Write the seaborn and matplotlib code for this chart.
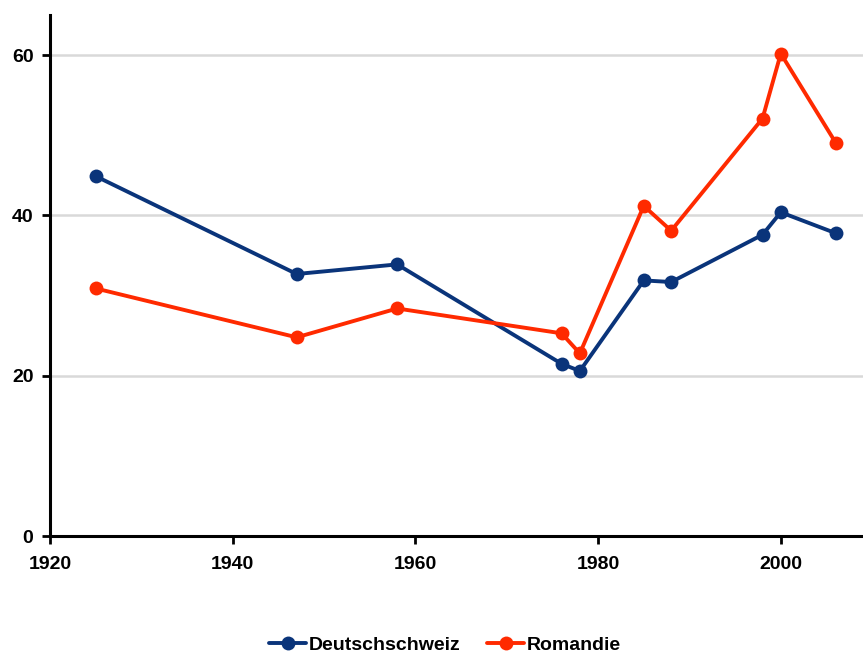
import matplotlib
matplotlib.use("Agg")
import matplotlib.pyplot as plt
import seaborn as sns
import pandas as pd

years = [1925, 1947, 1958, 1976, 1978, 1985, 1988, 1998, 2000, 2006]
deutschschweiz = [44.9, 32.7, 33.9, 21.5, 20.6, 31.9, 31.7, 37.6, 40.4, 37.8]
romandie = [30.9, 24.8, 28.4, 25.3, 22.8, 41.2, 38.1, 52.1, 60.2, 49.1]
series_names = ["Deutschschweiz", "Romandie"]
colors = ["#0a347a", "#ff2a00"]
x_ticks = [1920, 1940, 1960, 1980, 2000]
y_ticks = [0, 20, 40, 60]

df = pd.DataFrame({
    "Jahr": years * 2,
    "Wert": deutschschweiz + romandie,
    "Region": [series_names[0]] * len(years) + [series_names[1]] * len(years),
})

sns.set_theme(style="white")
plt.rcParams["font.family"] = ["Liberation Sans", "DejaVu Sans"]
plt.rcParams["text.color"] = "black"
plt.rcParams["xtick.color"] = "black"
plt.rcParams["ytick.color"] = "black"

fig = plt.figure(figsize=(8.63, 6.57), dpi=100)
ax = fig.add_axes([0.058, 0.184, 0.942, 0.793])

for y in y_ticks[1:]:
    ax.axhline(y, color="#d9d9d9", lw=1.8, zorder=0)

sns.lineplot(data=df, x="Jahr", y="Wert", hue="Region", palette=colors,
             marker="o", markersize=10, markeredgewidth=0, linewidth=2.8,
             ax=ax, legend=False, zorder=3)

ax.set_xlim(1920, 2009)
ax.set_ylim(0, 65)
ax.set_xticks(x_ticks)
ax.set_yticks(y_ticks)
ax.set_xlabel("")
ax.set_ylabel("")
for s in ["top", "right"]:
    ax.spines[s].set_visible(False)
for s in ["left", "bottom"]:
    ax.spines[s].set_color("black")
    ax.spines[s].set_linewidth(2.2)
ax.tick_params(axis="both", direction="out", length=6, width=2, color="black",
               labelcolor="black", labelsize=14, bottom=True, left=True)
ax.tick_params(axis="x", pad=8)
ax.tick_params(axis="y", pad=6)
for lab in ax.get_xticklabels() + ax.get_yticklabels():
    lab.set_fontweight("bold")
ax.grid(False)

from matplotlib.lines import Line2D
handles = [Line2D([0], [0], color=c, lw=2.8, marker="o", markersize=10, markeredgewidth=0)
           for c in colors]
leg = fig.legend(handles, series_names, loc="center", bbox_to_anchor=(0.516, 0.018),
                 ncol=2, frameon=False, handlelength=1.9, handletextpad=0.15,
                 columnspacing=1.35, prop={"weight": "bold", "size": 14})
for t in leg.get_texts():
    t.set_color("black")

fig.savefig("out.png", dpi=100)
